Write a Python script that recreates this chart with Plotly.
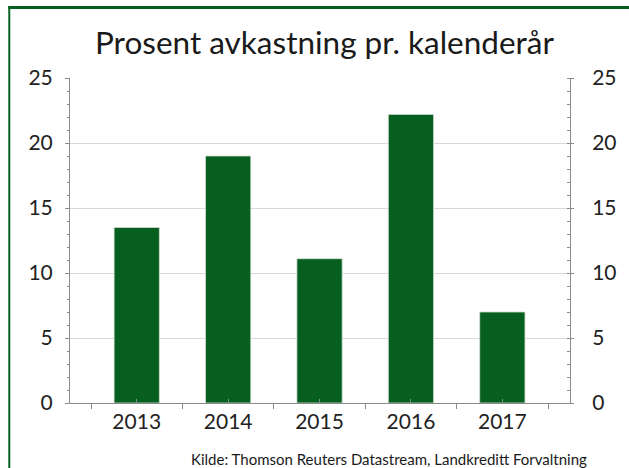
import plotly.graph_objects as go

years = ["2013", "2014", "2015", "2016", "2017"]
values = [13.5, 19.0, 11.1, 22.2, 7.0]
ytick_vals = [0, 5, 10, 15, 20, 25]

title_text = "Prosent avkastning pr. kalenderår"
source_text = "Kilde: Thomson Reuters Datastream, Landkreditt Forvaltning"

GREEN = "#065f1f"
FONT = "Lato"

W, H = 629, 468
ML, MR, MT, MB = 70, 51, 78, 65
PW, PH = W - ML - MR, H - MT - MB


def px2x(px):
    return (px - ML) / PW


def px2y(py):
    return (H - MB - py) / PH


xpos = list(range(len(years)))

fig = go.Figure()
fig.add_trace(go.Bar(
    x=xpos, y=values, width=0.495,
    marker=dict(color=GREEN, line=dict(color="rgba(210,220,210,0.8)", width=1)),
    showlegend=False, hoverinfo="x+y",
))
fig.add_trace(go.Scatter(x=[], y=[], yaxis="y2", showlegend=False))

axis_font = dict(family=FONT, size=21, color="#222222")

fig.update_layout(
    width=W, height=H,
    margin=dict(l=ML, r=MR, t=MT, b=MB, pad=0),
    paper_bgcolor="white", plot_bgcolor="white",
    font=dict(family=FONT),
    xaxis=dict(
        range=[-0.73, 4.74], tickmode="array", tickvals=xpos, ticktext=years,
        showgrid=False, zeroline=False, showline=True, linecolor="#8a8a8a", linewidth=1,
        ticks="inside", ticklen=4, tickcolor="#8a8a8a",
        minor=dict(tickmode="array", tickvals=[i - 0.5 for i in range(len(years) + 1)],
                   ticks="outside", ticklen=5, tickcolor="#8a8a8a", showgrid=False),
        tickfont=axis_font,
    ),
    yaxis=dict(
        range=[0, 25], tickmode="array", tickvals=ytick_vals,
        showgrid=True, gridcolor="#d9d9d9", gridwidth=1, zeroline=False,
        showline=True, linecolor="#8a8a8a", linewidth=1,
        ticks="outside", ticklen=4, tickcolor="#8a8a8a",
        minor=dict(dtick=1, tick0=0, ticks="outside", ticklen=2, tickcolor="#8a8a8a", showgrid=False),
        tickfont=axis_font, ticklabelstandoff=8,
    ),
    yaxis2=dict(
        range=[0, 25], overlaying="y", side="right", tickmode="array", tickvals=ytick_vals,
        showgrid=False, zeroline=False, showline=True, linecolor="#8a8a8a", linewidth=1,
        ticks="outside", ticklen=3, tickcolor="#8a8a8a",
        minor=dict(dtick=1, tick0=0, ticks="inside", ticklen=3, tickcolor="#8a8a8a", showgrid=False),
        tickfont=axis_font, ticklabelstandoff=14,
    ),
    shapes=[
        dict(type="rect", xref="paper", yref="paper",
             x0=px2x(7.3), x1=px2x(9.3), y0=px2y(475), y1=px2y(6),
             fillcolor=GREEN, line=dict(width=0), layer="above"),
        dict(type="rect", xref="paper", yref="paper",
             x0=px2x(7.3), x1=px2x(640), y0=px2y(9), y1=px2y(6),
             fillcolor=GREEN, line=dict(width=0), layer="above"),
    ],
    annotations=[
        dict(text=title_text, xref="paper", yref="paper", x=px2x(329), y=px2y(42),
             xanchor="center", yanchor="middle", showarrow=False,
             font=dict(family=FONT, size=31.5, color="#1a1a1a")),
        dict(text=source_text, xref="paper", yref="paper", x=px2x(597), y=px2y(459),
             xanchor="right", yanchor="middle", showarrow=False,
             font=dict(family=FONT, size=15, color="#1a1a1a")),
    ],
)

fig.write_html(
    "out.html",
    config={"displayModeBar": False},
    post_script="document.body.style.margin='0';document.body.style.overflow='hidden';",
)
